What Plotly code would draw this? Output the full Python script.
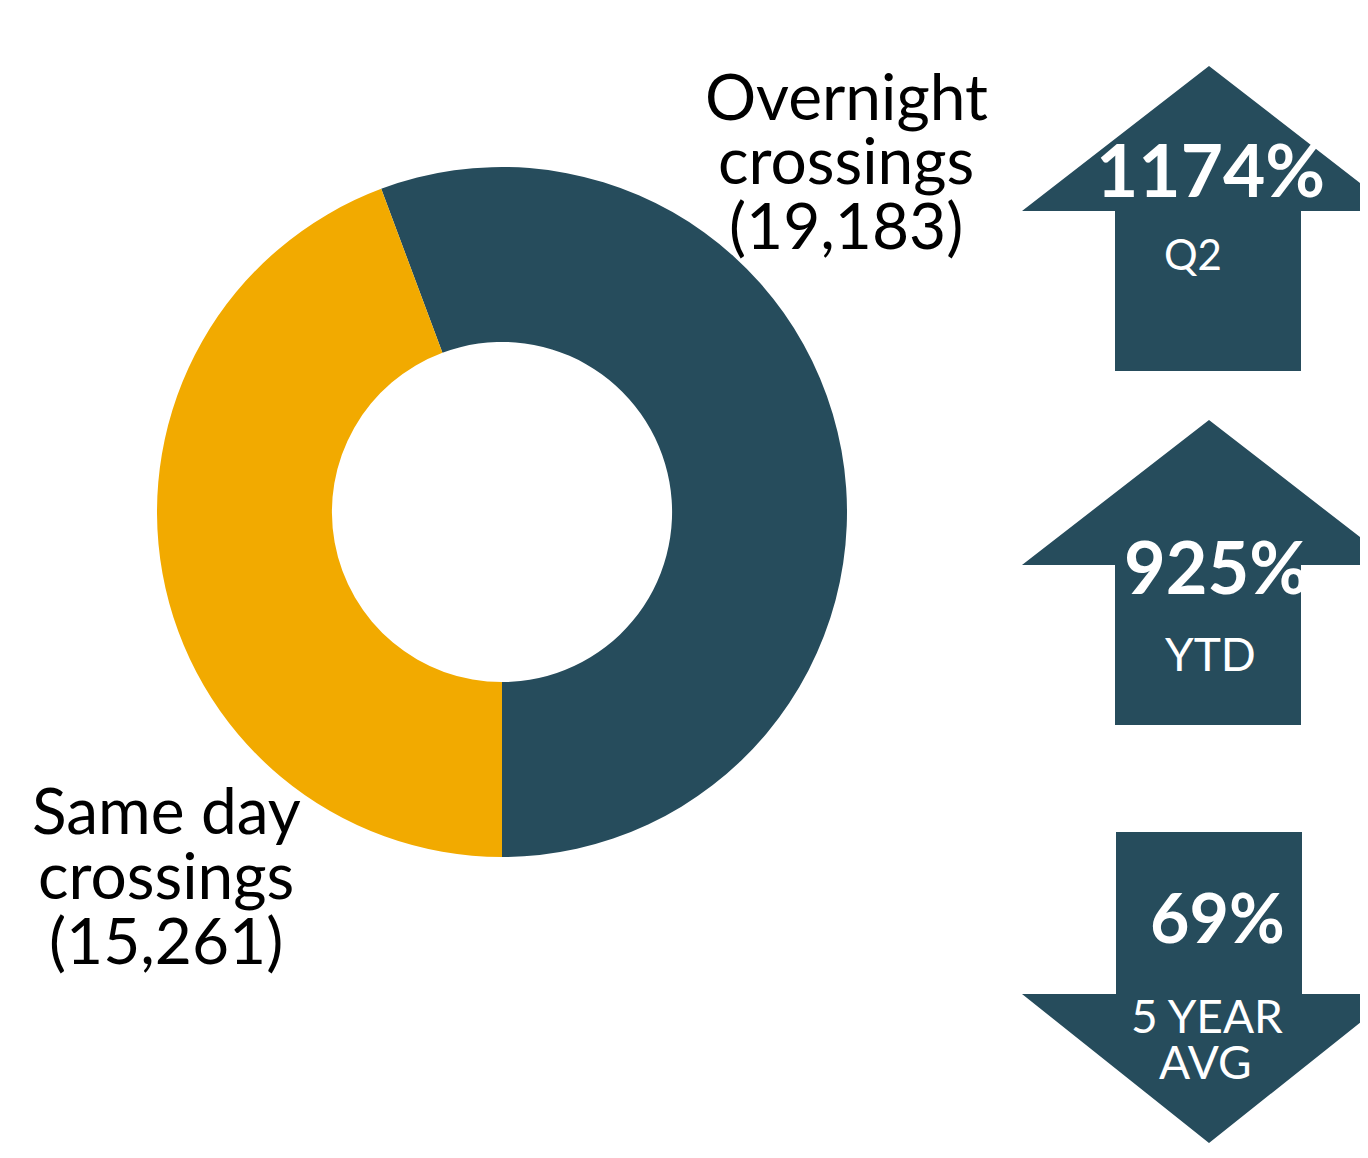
import plotly.graph_objects as go

# ---- data ----
categories = ["Overnight crossings", "Same day crossings"]
values = [19183, 15261]
colors = ["#264C5C", "#F2AA00"]

arrow_values = ["1174%", "925%", "69%"]
arrow_labels = ["Q2", "YTD", "5 YEAR<br>AVG"]
arrow_dirs = ["up", "up", "down"]

# page body adds an 8px offset; work in reference pixel coordinates
OFF = 8
W, H = 1368, 1158
FW, FH = W, H - 2 * OFF
XMAX = OFF + FW
YMAX = OFF + FH
DARK = "#264C5C"
FONT = "Lato"

total = sum(values)
first_angle = 360 * values[0] / total
rotation = 180 - first_angle

def px(x):
    return (x - OFF) / FW
def py(y):
    return (YMAX - y) / FH

fig = go.Figure()
fig.add_trace(go.Pie(
    labels=categories, values=values, sort=False, direction="clockwise",
    rotation=rotation, hole=0.493, marker=dict(colors=colors, line=dict(width=0)),
    textinfo="none", hoverinfo="label+value", showlegend=False,
    domain=dict(x=[px(157), px(847)], y=[py(857), py(167)]),
))

# invisible pixel axes for decorations
fig.add_trace(go.Scatter(x=[OFF, XMAX], y=[OFF, YMAX], mode="markers",
                         marker=dict(opacity=0), hoverinfo="skip", showlegend=False))

shapes = []
def up_arrow(tip_y, base_y, bottom_y, cx=1209, half_head=187, sl=1115, sr=1301):
    return (f"M{cx-half_head},{base_y} L{cx},{tip_y} L{cx+half_head},{base_y} "
            f"L{sr},{base_y} L{sr},{bottom_y} L{sl},{bottom_y} L{sl},{base_y} Z")
def down_arrow(top_y, base_y, tip_y, cx=1209, half_head=187, sl=1116, sr=1302):
    return (f"M{sl},{top_y} L{sr},{top_y} L{sr},{base_y} L{cx+half_head},{base_y} "
            f"L{cx},{tip_y} L{cx-half_head},{base_y} L{sl},{base_y} Z")

arrow_geo = [(66, 211, 371), (420, 565, 725), (832, 994, 1143)]
for d, g in zip(arrow_dirs, arrow_geo):
    p = up_arrow(*g) if d == "up" else down_arrow(*g)
    shapes.append(dict(type="path", path=p, xref="x", yref="y",
                       fillcolor=DARK, line=dict(width=0), layer="below"))

ann = []
def txt(s, x, y, size, color="black", bold=False):
    ann.append(dict(text=f"<b>{s}</b>" if bold else s, x=x, y=y, xref="x", yref="y",
                    showarrow=False, xanchor="center", yanchor="middle",
                    font=dict(family=FONT, size=size, color=color)))

# donut labels (one annotation per line)
for line, y in zip(["Overnight", "crossings", f"({values[0]:,})"], [95, 159, 224]):
    txt(line, 846, y, 64)
for line, y in zip(["Same day", "crossings", f"({values[1]:,})"], [809, 874, 939]):
    txt(line, 166, y, 64)

# arrow texts
val_pos = [(1210, 169, 73), (1216, 566, 72), (1217, 916, 68)]
for v, (x, y, s) in zip(arrow_values, val_pos):
    txt(v, x, y, s, "white", bold=True)
lab_pos = [[(1193, 254, 42)], [(1210, 653, 46)], [(1207, 1015, 46), (1205, 1061, 46)]]
for lab, poss in zip(arrow_labels, lab_pos):
    for part, (x, y, s) in zip(lab.split("<br>"), poss):
        txt(part, x, y, s, "white")

fig.update_layout(
    width=FW, height=FH, margin=dict(l=0, r=0, t=0, b=0),
    paper_bgcolor="white", plot_bgcolor="rgba(0,0,0,0)",
    xaxis=dict(range=[OFF, XMAX], visible=False, fixedrange=True),
    yaxis=dict(range=[YMAX, OFF], visible=False, fixedrange=True),
    shapes=shapes, annotations=ann, font=dict(family=FONT),
)
fig.write_html("out.html")
